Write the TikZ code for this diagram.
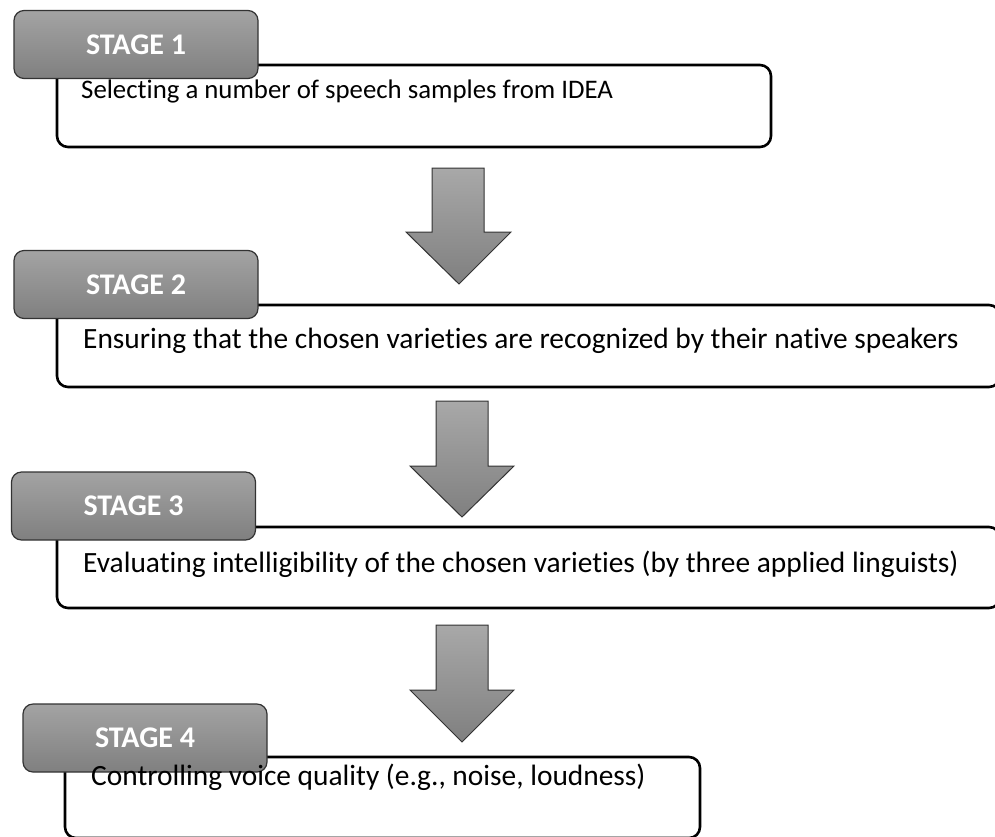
\documentclass[tikz,border=0pt]{standalone}
\usepackage{fontspec}
\setmainfont[Ligatures=CommonOff]{Carlito}
\begin{document}
\begin{tikzpicture}[x=1pt,y=-1pt,
  bodybox/.style={draw=black, line width=2.6pt, rounded corners=11pt, fill=white},
  stagehead/.style={draw=black!80, line width=1.2pt, rounded corners=10pt,
    top color=black!36, bottom color=black!50, shading angle=0,
    text=white, font=\fontsize{30}{32}\selectfont\bfseries,
    inner sep=0pt, minimum width=244pt, minimum height=68pt},
  bodytext/.style={anchor=base west, inner sep=0pt, font=\fontsize{29.4}{32}\selectfont, text=black},
  blockarrow/.style={draw=black!80, line width=1pt, top color=black!34, bottom color=black!50}
]
\useasboundingbox (0,0) rectangle (995,836);

% Stage 1
\draw[bodybox] (57,65) rectangle (771,147);
\node[stagehead] (h1) at (136,44.5) {STAGE 1};
\node[bodytext, font=\fontsize{26.8}{30}\selectfont] (t1) at (81,98) {Selecting a number of speech samples from IDEA};

% Stage 2
\draw[bodybox] (57,305) rectangle (1000,387);
\node[stagehead] (h2) at (136,284.5) {STAGE 2};
\node[bodytext] (t2) at (83,348) {Ensuring that the chosen varieties are recognized by their native speakers};

% Stage 3
\draw[bodybox] (57,527) rectangle (1000,608);
\node[stagehead] (h3) at (133.5,506) {STAGE 3};
\node[bodytext] (t3) at (83,572) {Evaluating intelligibility of the chosen varieties (by three applied linguists)};

% Stage 4
\draw[bodybox] (65,757) rectangle (700,838);
\node[stagehead] (h4) at (145,738) {STAGE 4};
\node[bodytext] (t4) at (91,785) {Controlling voice quality (e.g., noise, loudness)};

% Block arrows between the stages
\draw[blockarrow] (432,168) -- (484,168) -- (484,232) -- (511,232) -- (459,284)
  -- (406,232) -- (432,232) -- cycle;
\draw[blockarrow] (436,401) -- (488,401) -- (488,466) -- (514,466) -- (462,517)
  -- (410,466) -- (436,466) -- cycle;
\draw[blockarrow] (436,625) -- (488,625) -- (488,690) -- (514,690) -- (462,742)
  -- (410,690) -- (436,690) -- cycle;
\end{tikzpicture}
\end{document}
